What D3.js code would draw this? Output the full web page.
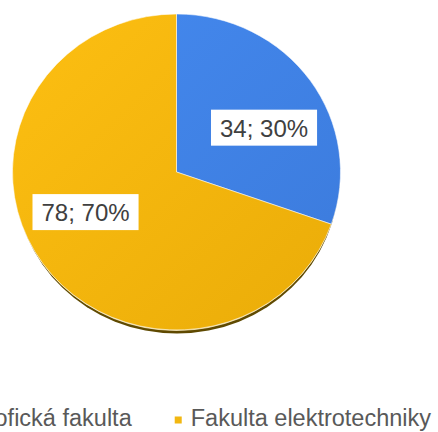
<!DOCTYPE html>
<html>
<head>
<meta charset="utf-8">
<script src="https://cdn.jsdelivr.net/npm/d3@7"></script>
<style>
  html, body { margin: 0; padding: 0; background: #ffffff; }
  svg { display: block; }
  text { font-family: "Liberation Sans", Arial, sans-serif; }
</style>
</head>
<body>
<svg id="chart" width="438" height="432"></svg>
<script>
// ---- data ----
const categories = ["Filozofická fakulta", "Fakulta elektrotechniky"];
const values = [34, 78];
const percents = ["30%", "70%"];
const colors = ["#4284e6", "#f2b711"];
const colorsDark = ["#3b7adb", "#eaac08"];

const W = 438, H = 432;
const cx = 176.5, cy = 172, rx = 164, ry = 158;

const svg = d3.select("#chart");
const defs = svg.append("defs");

colors.forEach((c, i) => {
  const g = defs.append("linearGradient")
    .attr("id", "grad" + i)
    .attr("gradientUnits", "userSpaceOnUse")
    .attr("x1", -rx).attr("y1", -rx).attr("x2", rx).attr("y2", rx);
  g.append("stop").attr("offset", "0%").attr("stop-color", d3.color(c).brighter(0.12));
  g.append("stop").attr("offset", "100%").attr("stop-color", colorsDark[i]);
});

const blur = defs.append("filter").attr("id", "shblur")
  .attr("x", "-10%").attr("y", "-10%").attr("width", "120%").attr("height", "120%");
blur.append("feGaussianBlur").attr("stdDeviation", 0.7);

const pie = d3.pie().sort(null).value(d => d)(values);
const arc = d3.arc().innerRadius(0).outerRadius(rx);

// shadow / rim
const sh = svg.append("g").attr("transform", `translate(${cx + 0.5},${cy + 5.5}) scale(1,${ry / rx})`);
sh.append("circle").attr("r", rx - 2).attr("fill", "#5f4a04").attr("filter", "url(#shblur)");
const sh2 = svg.append("g").attr("transform", `translate(${cx},${cy + 1.4}) scale(1,${ry / rx})`);
sh2.append("circle").attr("r", rx - 0.5).attr("fill", "#e6d39a");

const g = svg.append("g")
  .attr("transform", `translate(${cx},${cy}) scale(1,${ry / rx})`);

g.selectAll("path.slice").data(pie).join("path")
  .attr("class", "slice")
  .attr("d", arc)
  .attr("fill", (d, i) => `url(#grad${i})`)
  .attr("stroke", "#ffffff")
  .attr("stroke-opacity", 0.55)
  .attr("stroke-width", 1);

// data labels
const labelR = [0.603 * rx, 0.61 * rx];
const angleShift = [0.133, 0.188];
const labels = svg.append("g");
pie.forEach((d, i) => {
  const a = (d.startAngle + d.endAngle) / 2 + angleShift[i];
  const lx = cx + labelR[i] * Math.sin(a);
  const ly = cy - labelR[i] * Math.cos(a) * (ry / rx);
  const lg = labels.append("g").attr("transform", `translate(${lx},${ly})`);
  const t = lg.append("text")
    .attr("text-anchor", "middle")
    .attr("y", 9)
    .attr("font-size", 24)
    .attr("fill", "#404040")
    .text(`${values[i]}; ${percents[i]}`);
  const w = t.node().getComputedTextLength();
  lg.insert("rect", "text")
    .attr("x", -w / 2 - 9).attr("y", -18)
    .attr("width", w + 18).attr("height", 36)
    .attr("fill", "#ffffff");
});

// legend
const legend = svg.append("g");
const fs = 23.5, mk = 7, mkGap = 9, itemGap = 43;
const items = categories.map((c, i) => {
  const gi = legend.append("g");
  gi.append("rect").attr("width", mk).attr("height", mk).attr("y", -mk / 2 - 6).attr("fill", colors[i]);
  const t = gi.append("text").attr("x", mk + mkGap).attr("font-size", fs).attr("fill", "#595959").text(c);
  return { g: gi, w: mk + mkGap + t.node().getComputedTextLength() };
});
const total = items.reduce((s, it) => s + it.w, 0) + itemGap * (items.length - 1);
let x = 180 - total / 2;
items.forEach(it => {
  it.g.attr("transform", `translate(${x},426)`);
  x += it.w + itemGap;
});
</script>
</body>
</html>
